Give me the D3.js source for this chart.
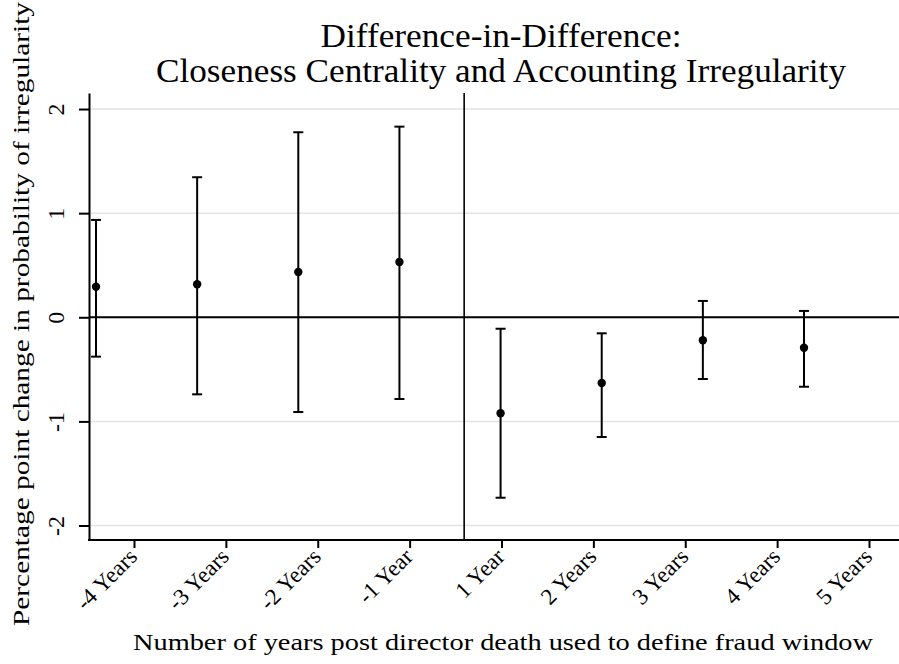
<!DOCTYPE html>
<html>
<head>
<meta charset="utf-8">
<script src="https://cdn.jsdelivr.net/npm/d3@7"></script>
<style>
  html, body { margin: 0; padding: 0; background: #fff; }
  svg { display: block; }
  text { font-family: "Liberation Serif", "DejaVu Serif", serif; fill: #000; }
</style>
</head>
<body>
<svg id="chart" width="899" height="664"></svg>
<script>
// Event windows around the director death (one estimate per window)
const windows = ["-4 Years", "-3 Years", "-2 Years", "-1 Year", "1 Year", "2 Years", "3 Years", "4 Years"];
// Point estimates (percentage points)
const estimate = [0.294, 0.317, 0.435, 0.531, -0.922, -0.631, -0.221, -0.292];
// 95% confidence bounds
const ciLower = [-0.378, -0.740, -0.910, -0.785, -1.733, -1.150, -0.593, -0.667];
const ciUpper = [0.935, 1.345, 1.777, 1.831, -0.110, -0.154, 0.157, 0.061];
// Axis labels
const xTickLabels = ["-4 Years", "-3 Years", "-2 Years", "-1 Year", "1 Year", "2 Years", "3 Years", "4 Years", "5 Years"];
const yTickValues = [2, 1, 0, -1, -2];
// Position of the event line, in window-index units
const eventIndex = 3.64;

const titleLines = ["Difference-in-Difference:", "Closeness Centrality and Accounting Irregularity"];
const xTitle = "Number of years post director death used to define fraud window";
const yTitle = "Percentage point change in probability of irregularity";

const serif = "'Liberation Serif', 'DejaVu Serif', serif";
const svg = d3.select("#chart");

const plot = { left: 89, right: 899, top: 93, bottom: 540 };

const y = d3.scaleLinear().domain([-2.139, 2.154]).range([plot.bottom, plot.top]);
const xIdx = d3.scaleLinear().domain([0, windows.length - 1]).range([96, 804]);
const xTick = d3.scalePoint().domain(xTickLabels).range([134, 869]);

// Horizontal grid lines
svg.append("g").selectAll("line")
  .data(yTickValues.filter(v => v !== 0))
  .join("line")
  .attr("x1", plot.left + 2).attr("x2", plot.right)
  .attr("y1", d => y(d)).attr("y2", d => y(d))
  .attr("stroke", "#e3e3e3").attr("stroke-width", 1.5);

// Zero reference line
svg.append("line")
  .attr("x1", plot.left).attr("x2", plot.right)
  .attr("y1", y(0)).attr("y2", y(0))
  .attr("stroke", "#000").attr("stroke-width", 2);

// Event line
svg.append("line")
  .attr("x1", xIdx(eventIndex)).attr("x2", xIdx(eventIndex))
  .attr("y1", plot.top).attr("y2", plot.bottom)
  .attr("stroke", "#000").attr("stroke-width", 1.6);

// Y axis
const yAxis = svg.append("g")
  .attr("transform", `translate(${plot.left},0)`)
  .call(d3.axisLeft(y).tickValues(yTickValues).tickSize(10).tickSizeOuter(0)
    .tickFormat(d => d < 0 ? "-" + Math.abs(d) : String(d)))
  .attr("font-family", serif);
yAxis.select(".domain").attr("stroke", "#000").attr("stroke-width", 2);
yAxis.selectAll(".tick line").attr("stroke", "#000").attr("stroke-width", 2);
yAxis.selectAll(".tick text")
  .attr("x", null).attr("dy", null)
  .attr("transform", "translate(-25,0) rotate(-90)")
  .attr("text-anchor", "middle")
  .attr("font-size", 24);

// X axis
const xAxis = svg.append("g")
  .attr("transform", `translate(0,${plot.bottom})`)
  .call(d3.axisBottom(xTick).tickSize(8).tickSizeOuter(0))
  .attr("font-family", serif);
xAxis.select(".domain").remove();
xAxis.append("line")
  .attr("x1", plot.left - 1).attr("x2", plot.right)
  .attr("stroke", "#000").attr("stroke-width", 2);
xAxis.selectAll(".tick line").attr("stroke", "#000").attr("stroke-width", 2);
xAxis.selectAll(".tick text")
  .attr("y", null).attr("dy", null)
  .attr("transform", "translate(4,18) rotate(-45)")
  .attr("text-anchor", "end")
  .attr("font-size", 23);
svg.selectAll(".tick text").attr("fill", "#000");

// Confidence intervals
const capHalf = 5;
const bars = svg.append("g").selectAll("g")
  .data(windows.map((w, i) => ({ i, est: estimate[i], lo: ciLower[i], hi: ciUpper[i] })))
  .join("g")
  .attr("stroke", "#000").attr("stroke-width", 2);
bars.append("line")
  .attr("x1", d => xIdx(d.i)).attr("x2", d => xIdx(d.i))
  .attr("y1", d => y(d.lo)).attr("y2", d => y(d.hi));
bars.append("line")
  .attr("x1", d => xIdx(d.i) - capHalf).attr("x2", d => xIdx(d.i) + capHalf)
  .attr("y1", d => y(d.lo)).attr("y2", d => y(d.lo));
bars.append("line")
  .attr("x1", d => xIdx(d.i) - capHalf).attr("x2", d => xIdx(d.i) + capHalf)
  .attr("y1", d => y(d.hi)).attr("y2", d => y(d.hi));

// Point estimates
svg.append("g").selectAll("circle")
  .data(estimate)
  .join("circle")
  .attr("cx", (d, i) => xIdx(i))
  .attr("cy", d => y(d))
  .attr("r", 4.2)
  .attr("fill", "#000");

// Title
svg.append("g").selectAll("text")
  .data(titleLines)
  .join("text")
  .attr("x", 501)
  .attr("y", (d, i) => 47 + i * 35)
  .attr("text-anchor", "middle")
  .attr("font-size", 34)
  .attr("textLength", (d, i) => i === 0 ? 361 : 690)
  .attr("lengthAdjust", "spacingAndGlyphs")
  .text(d => d);

// Axis titles
svg.append("text")
  .attr("x", 503).attr("y", 650)
  .attr("text-anchor", "middle")
  .attr("font-size", 24)
  .attr("textLength", 740)
  .attr("lengthAdjust", "spacingAndGlyphs")
  .text(xTitle);

svg.append("text")
  .attr("transform", "translate(29,314) rotate(-90)")
  .attr("text-anchor", "middle")
  .attr("font-size", 24)
  .attr("textLength", 624)
  .attr("lengthAdjust", "spacingAndGlyphs")
  .text(yTitle);
</script>
</body>
</html>
